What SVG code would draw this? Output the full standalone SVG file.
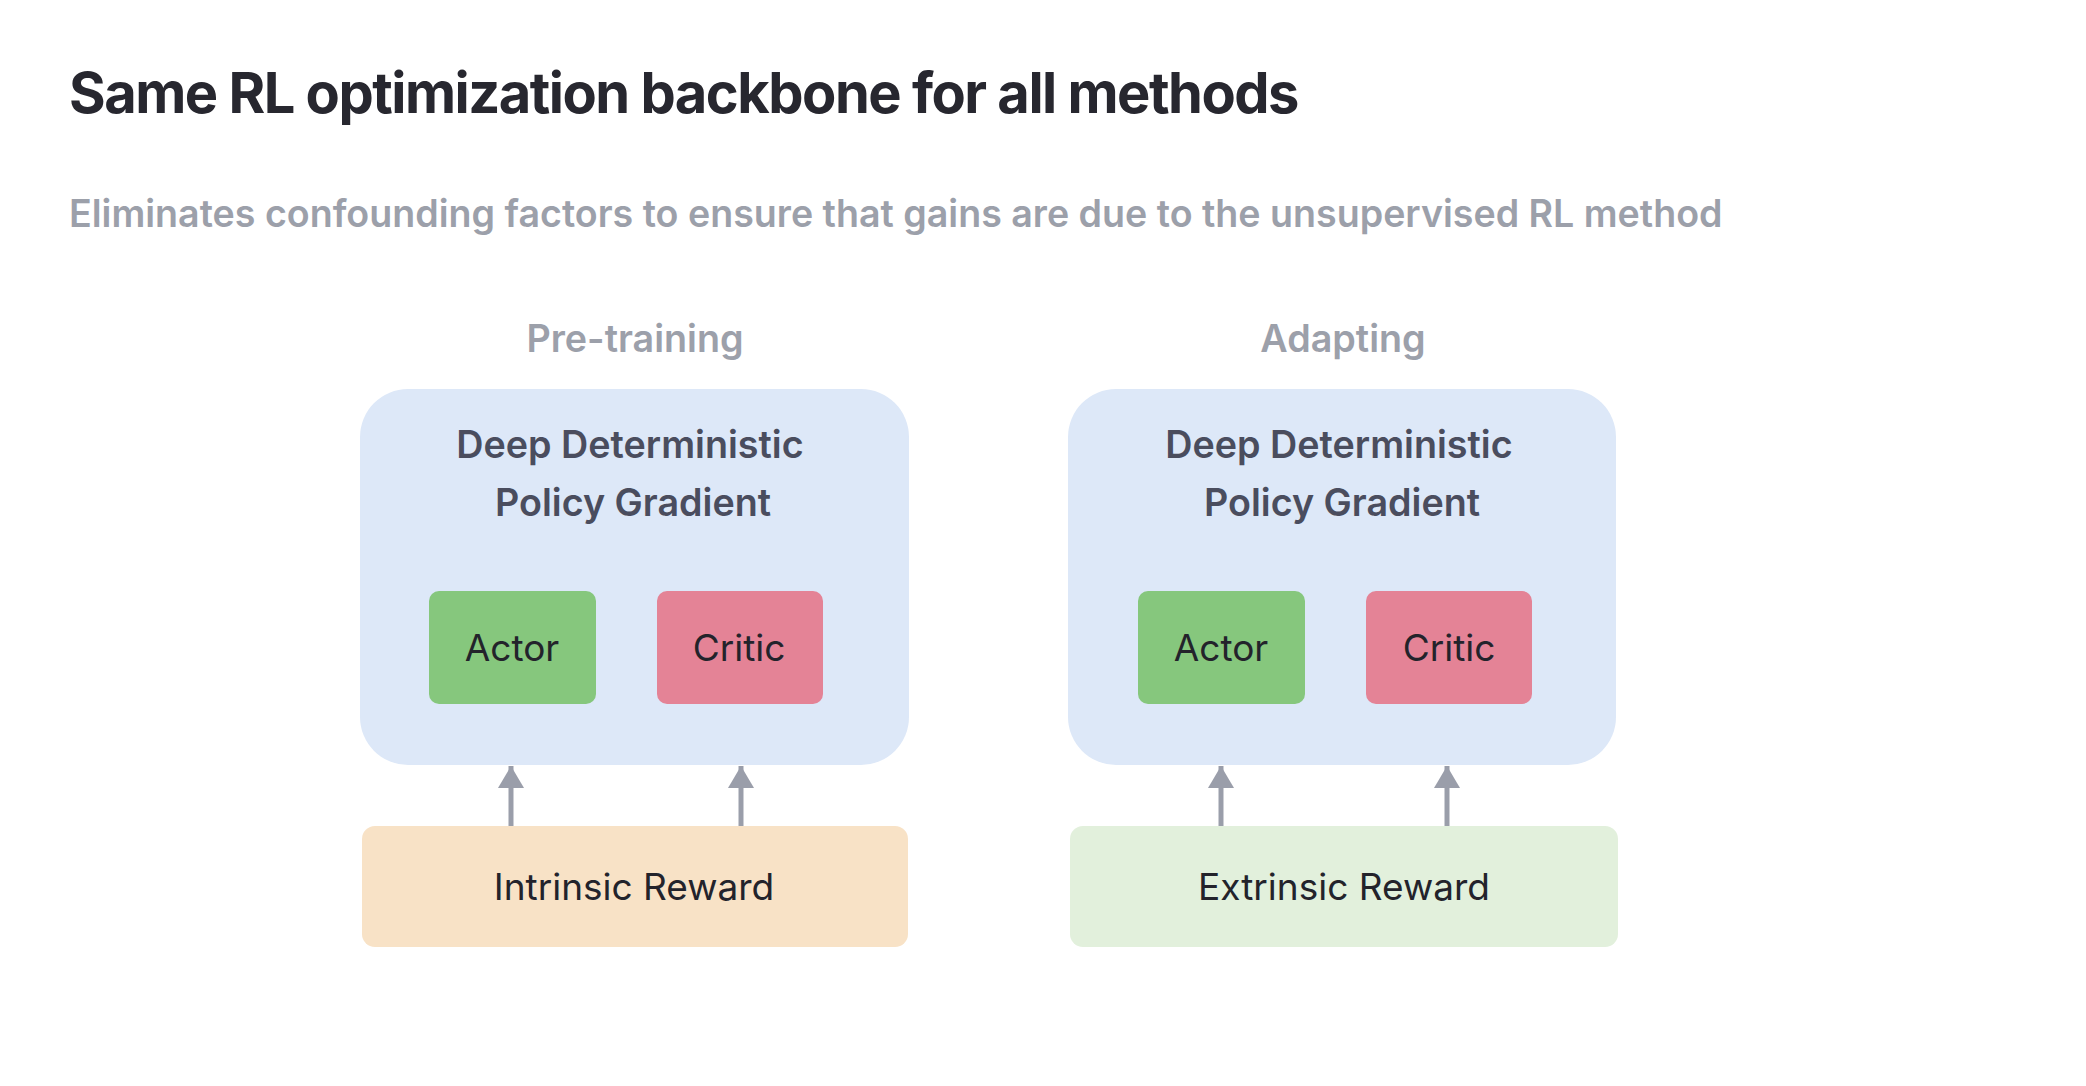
<svg xmlns="http://www.w3.org/2000/svg" width="2086" height="1086" viewBox="0 0 2086 1086">
<defs>
<style>
.t{font-family:Inter,"Noto Sans","Liberation Sans",sans-serif}
.title{font-size:56px;font-weight:700;fill:#27272f;letter-spacing:-1.5px}
.sub{font-size:37.6px;font-weight:600;fill:#9ca0aa}
.sec{font-size:37.7px;font-weight:600;fill:#9ca0aa}
.hd{font-size:37.7px;font-weight:600;fill:#4a4d5e}
.lbl{font-size:37px;font-weight:400;fill:#23232b}
.big{fill:#dde8f8}
.actor{fill:#86c77d}
.critic{fill:#e48396}
.intr{fill:#f8e2c6}
.extr{fill:#e2f0dc}
.conn line{stroke:#9a9eaa;stroke-width:5}
</style>
<marker id="ah" viewBox="0 0 22 26" refX="22" refY="13" markerWidth="22" markerHeight="26" markerUnits="userSpaceOnUse" orient="auto">
<path d="M0,0 L22,13 L0,26 z" fill="#9a9eaa"/>
</marker>
</defs>
<rect width="2086" height="1086" fill="#ffffff"/>
<text class="t title" x="69" y="113">Same RL optimization backbone for all methods</text>
<text class="t sub" x="69" y="227">Eliminates confounding factors to ensure that gains are due to the unsupervised RL method</text>
<g id="pretraining">
<text class="t sec" x="635" y="352" text-anchor="middle">Pre-training</text>
<rect class="big" x="360" y="389" width="549" height="376" rx="48"/>
<text class="t hd" x="630" y="458" text-anchor="middle">Deep Deterministic</text>
<text class="t hd" x="633" y="516" text-anchor="middle">Policy Gradient</text>
</g>
<g id="actor1"><rect class="actor" x="429" y="591" width="167" height="113" rx="10"/><text class="t lbl" x="512" y="661" text-anchor="middle">Actor</text></g>
<g id="critic1"><rect class="critic" x="657" y="591" width="166" height="113" rx="10"/><text class="t lbl" x="739" y="661" text-anchor="middle">Critic</text></g>
<g id="intrinsic"><rect class="intr" x="362" y="826" width="546" height="121" rx="13"/><text class="t lbl" x="634" y="900" text-anchor="middle">Intrinsic Reward</text></g>
<g id="adapting">
<text class="t sec" x="1343" y="352" text-anchor="middle">Adapting</text>
<rect class="big" x="1068" y="389" width="548" height="376" rx="48"/>
<text class="t hd" x="1339" y="458" text-anchor="middle">Deep Deterministic</text>
<text class="t hd" x="1342" y="516" text-anchor="middle">Policy Gradient</text>
</g>
<g id="actor2"><rect class="actor" x="1138" y="591" width="167" height="113" rx="10"/><text class="t lbl" x="1221" y="661" text-anchor="middle">Actor</text></g>
<g id="critic2"><rect class="critic" x="1366" y="591" width="166" height="113" rx="10"/><text class="t lbl" x="1449" y="661" text-anchor="middle">Critic</text></g>
<g id="extrinsic"><rect class="extr" x="1070" y="826" width="548" height="121" rx="13"/><text class="t lbl" x="1344" y="900" text-anchor="middle">Extrinsic Reward</text></g>
<g id="connectors" class="conn">
<line x1="511" y1="826" x2="511" y2="766" marker-end="url(#ah)"/>
<line x1="741" y1="826" x2="741" y2="766" marker-end="url(#ah)"/>
<line x1="1221" y1="826" x2="1221" y2="766" marker-end="url(#ah)"/>
<line x1="1447" y1="826" x2="1447" y2="766" marker-end="url(#ah)"/>
</g>
</svg>
